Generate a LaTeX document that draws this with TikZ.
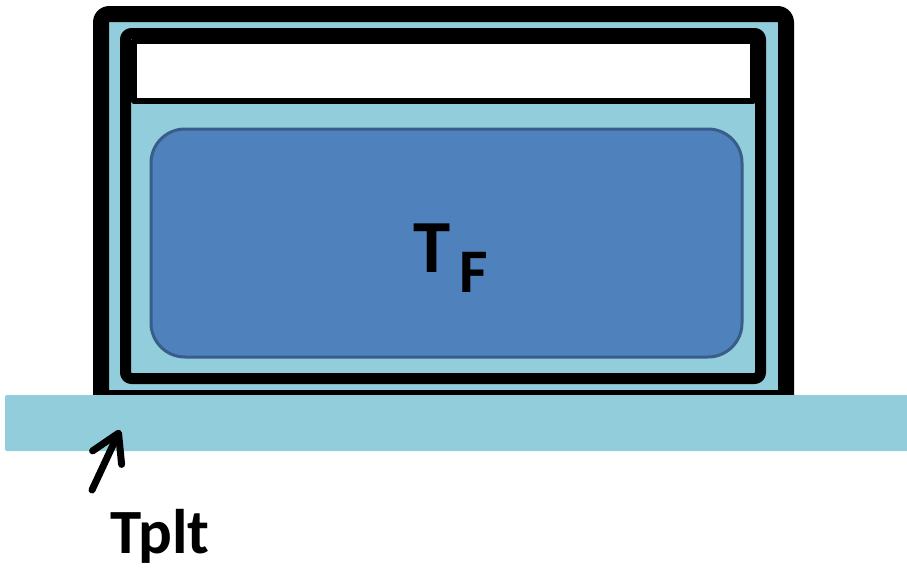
\documentclass[tikz,border=0pt]{standalone}
\usepackage{fontspec}
\setmainfont{Carlito}
\usetikzlibrary{arrows.meta}
\definecolor{lightaqua}{HTML}{92CDDC}
\definecolor{fluidblue}{HTML}{4F81BD}
\definecolor{fluidedge}{HTML}{385D8A}
\tikzset{
  frameline/.style={draw=black, line join=round},
  labeltext/.style={inner sep=0pt, font=\bfseries},
}
\begin{document}
\begin{tikzpicture}[x=1pt,y=-1pt]
\useasboundingbox (0,0) rectangle (907,571);
% outer frame
\fill[lightaqua] (101,14) rectangle (786,395);
\draw[frameline, line width=16pt, rounded corners=8pt] (101,403) -- (101,14) -- (786,14) -- (786,403);
\draw[black, line width=5pt] (93,392.5) -- (794,392.5);
% inner frame
\draw[frameline, fill=lightaqua, line width=11pt, rounded corners=6pt] (125.5,33.5) rectangle (760.5,378.5);
% white lid space
\draw[frameline, fill=white, line width=6pt] (134,41) rectangle (753,101);
% fluid
\draw[draw=fluidedge, fill=fluidblue, line width=3pt, rounded corners=34pt] (151,129) rectangle (742,357);
% plate
\fill[lightaqua, rounded corners=2pt] (5,395) rectangle (910,451);
% labels
\node[labeltext, anchor=base west] (tf) at (413,272) {\fontsize{75}{75}\selectfont T\hspace{9pt}\raisebox{-20pt}{\fontsize{62}{62}\selectfont F}};
\node[labeltext, anchor=base west] (tplt) at (110,553) {\fontsize{63}{63}\selectfont Tplt};
\coordinate (arrowtail) at (92,490);
\coordinate (arrowtip) at (120,430);
\draw[line width=7pt, line cap=round, -{Straight Barb[length=27pt,width=32pt,line cap=round,line join=round]}] (arrowtail) -- (arrowtip);
\end{tikzpicture}
\end{document}
